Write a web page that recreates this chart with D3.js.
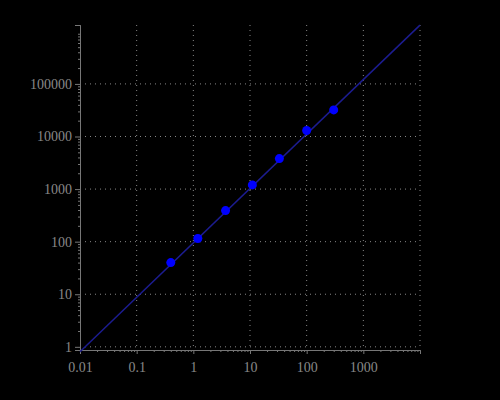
<!DOCTYPE html><html><head><script src="https://cdn.jsdelivr.net/npm/d3@7"></script>
<style>body{margin:0;background:#000}</style></head><body><script>
const xTicks=[0.01,0.1,1,10,100,1000];
const yTicks=[1,10,100,1000,10000,100000];
const px=[0.4,1.2,3.7,11,33,100,300];
const py=[40,115,390,1200,3800,13000,32000];
const fitA=95, fitB=1.035;
const W=500,H=400,L=80,R=420,T=25,B=350;
const svg=d3.select("body").append("svg").attr("width",W).attr("height",H).style("background","#000");
const x=d3.scaleLog().domain([0.01,10000]).range([L,R]);
const y=d3.scaleLog().domain([0.87,1.32e6]).range([B,T]);
const g=svg.append("g");
const dot="1,4",gc="#888";
xTicks.slice(1).concat([10000]).forEach(t=>g.append("line").attr("x1",x(t)).attr("x2",x(t)).attr("y1",T).attr("y2",B).attr("stroke",gc).attr("stroke-dasharray",dot));
yTicks.forEach(t=>g.append("line").attr("x1",L).attr("x2",R).attr("y1",y(t)).attr("y2",y(t)).attr("stroke",gc).attr("stroke-dasharray",dot));
const minorX=[];for(let e=-2;e<4;e++)for(let k=2;k<10;k++)minorX.push(k*10**e);
const minorY=[];for(let e=0;e<6;e++)for(let k=2;k<10;k++)minorY.push(k*10**e);
const ax=svg.append("g").attr("transform",`translate(0,${B})`).call(d3.axisBottom(x).tickValues(xTicks).tickFormat(d=>String(+d.toPrecision(3))).tickSize(4));
ax.append("g").call(d3.axisBottom(x).tickValues(minorX).tickFormat("").tickSize(2));
const ay=svg.append("g").attr("transform",`translate(${L},0)`).call(d3.axisLeft(y).tickValues(yTicks).tickFormat(d3.format("d")).tickSize(5));
ay.append("g").call(d3.axisLeft(y).tickValues(minorY.filter(v=>v<1.32e6)).tickFormat("").tickSize(2));
[ax,ay].forEach(a=>{a.selectAll("path,line").attr("stroke","#777");a.selectAll("text").attr("fill","#888").style("font-family","Liberation Serif").style("font-size","14px");});
ax.selectAll(".tick text").attr("dy","1.1em");
const f=v=>fitA*Math.pow(v,fitB);
svg.append("line").attr("x1",x(0.01)).attr("y1",y(f(0.01))).attr("x2",x(10000)).attr("y2",y(f(10000))).attr("stroke","#1c1c90").attr("stroke-width",1.5);
svg.selectAll("circle").data(px).join("circle").attr("cx",d=>x(d)).attr("cy",(d,i)=>y(py[i])).attr("r",4.5).attr("fill","#0000ff");
</script></body></html>
